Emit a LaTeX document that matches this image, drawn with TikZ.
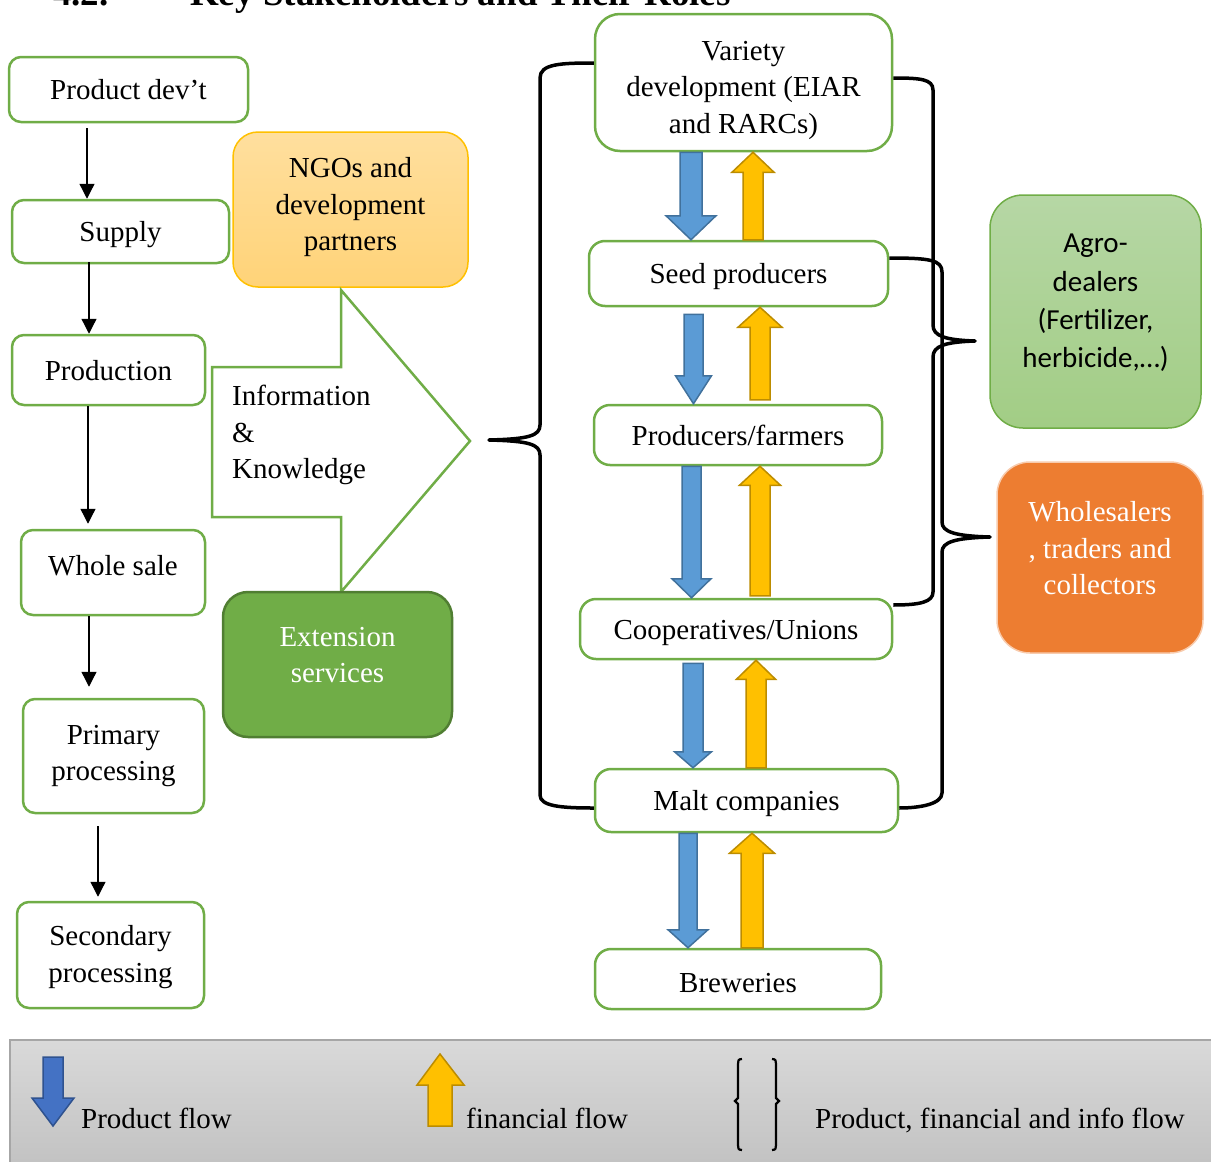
\documentclass[tikz,border=0pt]{standalone}
\usepackage{fontspec}
\setmainfont{Liberation Serif}
\newfontfamily\calib{Carlito}
\usetikzlibrary{calc,arrows.meta}

\definecolor{grn}{HTML}{70AD47}
\definecolor{dgrn}{HTML}{507E32}
\definecolor{bluef}{HTML}{5B9BD5}
\definecolor{blued}{HTML}{41719C}
\definecolor{bluel}{HTML}{4472C4}
\definecolor{bluel2}{HTML}{2F528F}
\definecolor{yelf}{HTML}{FFC000}
\definecolor{yeld}{HTML}{BC8C00}
\definecolor{orgf}{HTML}{ED7D31}
\definecolor{orgb}{HTML}{F8CBAD}
\definecolor{ngotop}{HTML}{FFDF9E}
\definecolor{ngobot}{HTML}{FFD378}
\definecolor{agrotop}{HTML}{B6D7A5}
\definecolor{agrobot}{HTML}{A2CD85}
\definecolor{legtop}{HTML}{D9D9D9}
\definecolor{legbot}{HTML}{C2C2C2}
\definecolor{legb}{HTML}{A6A6A6}

\newcommand\txt{\fontsize{29}{36.5}\selectfont}
\newcommand\dn[1]{\rule[-#1pt]{0pt}{#1pt}}

% product flow (blue, downward) between two nodes
\newcommand\pflow[7]{%
 \path[pf] let \p1=(#1.south), \p2=(#2.north) in
 ({(#3-#5)*1pt},{\y1-#4*1pt}) -- ({(#3+#5)*1pt},{\y1-#4*1pt})
 -- ({(#3+#5)*1pt},{\y2+#7*1pt}) -- ({(#3+#6)*1pt},{\y2+#7*1pt})
 -- ({#3*1pt},{\y2}) -- ({(#3-#6)*1pt},{\y2+#7*1pt})
 -- ({(#3-#5)*1pt},{\y2+#7*1pt}) -- cycle;}
% financial flow (yellow, upward) between two nodes
\newcommand\fflow[7]{%
 \path[ff] let \p1=(#1.south), \p2=(#2.north) in
 ({(#3-#5)*1pt},{\y2+#4*1pt}) -- ({(#3+#5)*1pt},{\y2+#4*1pt})
 -- ({(#3+#5)*1pt},{\y1-#7*1pt}) -- ({(#3+#6)*1pt},{\y1-#7*1pt})
 -- ({#3*1pt},{\y1}) -- ({(#3-#6)*1pt},{\y1-#7*1pt})
 -- ({(#3-#5)*1pt},{\y1-#7*1pt}) -- cycle;}

\begin{document}
\begin{tikzpicture}[x=1pt,y=-1pt,font=\txt,
  box/.style={draw=grn, line width=2.5pt, fill=white, rounded corners=12pt, inner sep=0pt, align=center},
  one/.style={text height=20pt, text depth=0pt},
  rbox/.style={box, rounded corners=16pt},
  arr/.style={-{Triangle[length=15pt,width=15pt]}, line width=1.3pt},
  pf/.style={fill=bluef, draw=blued, line width=1.5pt, line join=miter},
  ff/.style={fill=yelf, draw=yeld, line width=1.5pt, line join=miter},
  brc/.style={line width=3.5pt, line join=round},
  lbrc/.style={line width=2.2pt},
  plain/.style={inner sep=0pt}]
\useasboundingbox (0,0) rectangle (1211,1162);

% cut-off heading
\node[plain, anchor=base west, font=\fontsize{37}{40}\selectfont\bfseries] (hd) at (53,5)
  {\makebox[137pt][l]{4.2.}Key Stakeholders and Their Roles};

% left column
\node[box, one, minimum width=239pt, minimum height=65pt] (pd) at (128.5,89.5) {Product dev’t};
\node[box, one, minimum width=217pt, minimum height=63pt] (sup) at (120.5,231.5) {Supply};
\node[box, one, minimum width=193pt, minimum height=70pt] (prod) at (108.5,370) {Production};
\node[box, minimum width=184pt, minimum height=85pt] (ws) at (113,572.5) {Whole sale\dn{14}};
\node[box, minimum width=181pt, minimum height=114pt] (pp) at (113.5,756) {Primary\\processing};
\node[box, minimum width=187pt, minimum height=106pt] (sp) at (110.5,955) {\rule{0pt}{24pt}Secondary\\processing};

\draw[arr] ([xshift=-41.5pt,yshift=-5pt]pd.south) -- ([xshift=-33.5pt]sup.north);
\draw[arr] ([xshift=-31.5pt,yshift=2pt]sup.south) -- ([xshift=-19.5pt]prod.north);
\draw[arr] ([xshift=-20.5pt]prod.south) -- ([xshift=-25pt,yshift=5pt]ws.north);
\draw[arr] ([xshift=-24pt]ws.south) -- ([xshift=-24.5pt,yshift=11pt]pp.north);
\draw[arr] ([xshift=-15.5pt,yshift=-12pt]pp.south) -- ([xshift=-12.5pt,yshift=4pt]sp.north);

% NGOs, info arrow, extension
\node[draw=yelf, line width=1.5pt, top color=ngotop, bottom color=ngobot, rounded corners=25pt,
  inner sep=0pt, align=center, minimum width=235pt, minimum height=155pt] (ngo) at (350.5,209.5)
  {NGOs and\\development\\partners\dn{11}};
\draw[draw=grn, line width=2.5pt, fill=white, line join=miter]
  (212,367) -- (341,367) -- (341,290) -- (470,441) -- (341,592) -- (341,517) -- (212,517) -- cycle;
\node[plain, anchor=west, align=left] (info) at (232,435) {Information\\\&\\Knowledge};
\node[draw=dgrn, fill=grn, line width=2.5pt, rounded corners=25pt, inner sep=0pt, align=center,
  text=white, minimum width=229pt, minimum height=145pt] (ext) at (337.5,664.5)
  {Extension\\services\dn{19}};

% right column
\node[rbox, rounded corners=25pt, minimum width=297pt, minimum height=137pt] (var) at (743.5,82.5)
  {\rule{0pt}{35pt}Variety\\development (EIAR\\and RARCs)};
\node[rbox, one, minimum width=299pt, minimum height=65pt] (seed) at (738.5,273.5) {Seed producers};
\node[rbox, one, minimum width=288pt, minimum height=60pt] (farm) at (738,435) {Producers/farmers};
\node[rbox, one, minimum width=312pt, minimum height=60pt] (coop) at (736,629) {Cooperatives/Unions};
\node[rbox, one, minimum width=303pt, minimum height=63pt] (malt) at (746.5,800.5) {Malt companies};
\node[rbox, one, minimum width=286pt, minimum height=60pt] (brew) at (738,979) {\raisebox{-3pt}{Breweries}};

\pflow{var}{seed}{691}{0}{11}{25}{24}
\fflow{var}{seed}{753}{0}{10}{21}{20}
\pflow{seed}{farm}{693.5}{7}{9.5}{18}{28}
\fflow{seed}{farm}{760}{4}{10}{22}{20}
\pflow{farm}{coop}{691.5}{0}{9.5}{19.5}{19}
\fflow{farm}{coop}{760}{2}{10}{20.5}{19}
\pflow{coop}{malt}{693}{3}{10}{18.5}{16}
\fflow{coop}{malt}{756}{0}{10}{19.5}{19}
\pflow{malt}{brew}{688}{0}{9}{20}{18}
\fflow{malt}{brew}{752}{0}{11}{22.5}{20}

% side boxes
\node[draw=grn, line width=1.5pt, top color=agrotop, bottom color=agrobot, rounded corners=33pt,
  inner sep=0pt, align=center, font=\calib\fontsize{29}{38.3}\selectfont, minimum width=211pt, minimum height=233pt] (agro)
  at (1095.5,311.5) {Agro-\\dealers\\(Fertilizer,\\herbicide,…)\dn{21}};
\node[draw=orgb, line width=1.5pt, fill=orgf, rounded corners=33pt, inner sep=0pt, align=center,
  text=white, minimum width=206pt, minimum height=191pt] (whl) at (1100,557.5)
  {Wholesalers\\, traders and\\collectors\dn{19}};

% braces
\draw[brc] ([yshift=19.5pt]var.west) .. controls (560,63) and (540,64) .. (540,78) -- (540,425)
  .. controls (540,436) and (528,439) .. (489,440) coordinate (ltip)
  .. controls (528,441) and (540,444) .. (540,455) -- (540,795)
  .. controls (540,806) and (560,808) .. ([yshift=-7.5pt]malt.west);
\draw[brc] ([yshift=4.5pt]var.east) .. controls (920,78) and (933,79) .. (933,90) -- (933,325)
  .. controls (933,336) and (945,340) .. (975,341) coordinate (rtipA)
  .. controls (945,342) and (933,346) .. (933,357) -- (933,592)
  .. controls (933,602) and (920,605) .. ([yshift=24pt]coop.east);
\draw[brc] ([yshift=15.5pt]seed.east) .. controls (930,258) and (942,260) .. (942,272) -- (942,522)
  .. controls (942,532) and (955,536) .. (990,537) coordinate (rtipB)
  .. controls (955,538) and (942,542) .. (942,552) -- (942,793)
  .. controls (942,804) and (920,808) .. ([yshift=-7.5pt]malt.east);

% legend
\draw[draw=legb, line width=1.5pt, top color=legtop, bottom color=legbot] (10,1040) rectangle (1216,1167);
\path[fill=bluel, draw=bluel2, line width=1.5pt, line join=miter]
  (43,1057) -- (63,1057) -- (63,1098) -- (74,1098) -- (53,1126) -- (32,1098) -- (43,1098) -- cycle;
\node[plain, anchor=base west] (lg1) at (81,1128) {Product flow};
\path[ff] (428,1126) -- (452,1126) -- (452,1085) -- (464,1085) -- (440,1054) -- (417,1085) -- (428,1085) -- cycle;
\node[plain, anchor=base west] (lg2) at (466,1128) {financial flow};
\draw[lbrc] (742,1059) .. controls (738,1059) and (738,1061) .. (738,1064) -- (738,1098) -- (735,1101) -- (738,1104)
  -- (738,1145) .. controls (738,1148) and (738,1150) .. (742,1150);
\draw[lbrc] (772,1059) .. controls (776,1059) and (776,1061) .. (776,1064) -- (776,1098) -- (779,1101) -- (776,1104)
  -- (776,1145) .. controls (776,1148) and (776,1150) .. (772,1150);
\node[plain, anchor=base west] (lg3) at (815,1128) {Product, financial and info flow};
\end{tikzpicture}
\end{document}
